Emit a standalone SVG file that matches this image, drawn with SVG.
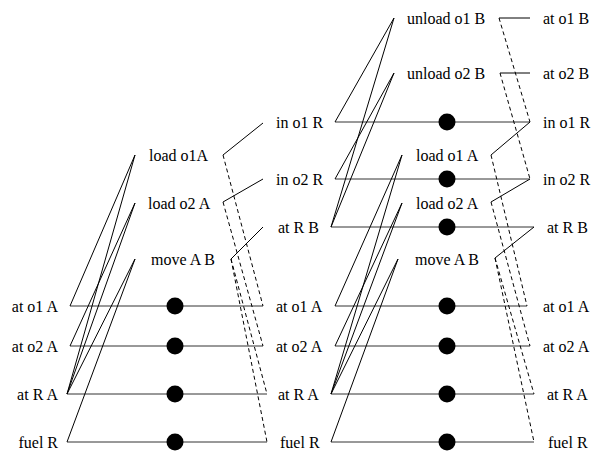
<svg xmlns="http://www.w3.org/2000/svg" width="591" height="452" viewBox="0 0 591 452" font-family="'Liberation Serif', 'Times New Roman', serif" font-size="16">
<style>
text{font-family:'Liberation Serif','Times New Roman','DejaVu Serif',serif;font-size:16px;fill:#000}
.e{text-anchor:end}
.f{stroke:#333;stroke-width:1;fill:none}
.c{stroke:#000;stroke-width:1;fill:none}
.d{stroke:#000;stroke-width:1;fill:none;stroke-dasharray:4 3}
.dot{fill:#000}
</style>
<rect width="591" height="452" fill="#fff"/>
<!-- layer 0 facts -->
<g id="f0-at-o1-A"><text class="e" x="58" y="311.5">at o1 A</text><line class="f" x1="70" y1="306" x2="263" y2="306"/><circle class="dot" cx="175" cy="306" r="8.5"/></g>
<g id="f0-at-o2-A"><text class="e" x="58" y="351.5">at o2 A</text><line class="f" x1="70" y1="346" x2="263" y2="346"/><circle class="dot" cx="175" cy="346" r="8.5"/></g>
<g id="f0-at-R-A"><text class="e" x="58" y="399.5">at R A</text><line class="f" x1="67" y1="394" x2="267" y2="394"/><circle class="dot" cx="175" cy="394" r="8.5"/></g>
<g id="f0-fuel-R"><text class="e" x="58" y="447.5">fuel R</text><line class="f" x1="67" y1="442" x2="267" y2="442"/><circle class="dot" cx="175" cy="442" r="8.5"/></g>
<!-- layer 0 actions -->
<g id="a0-load-o1-A"><text x="149" y="161">load o1A</text></g>
<g id="a0-load-o2-A"><text x="148" y="209">load o2 A</text></g>
<g id="a0-move-A-B"><text x="151" y="264.5">move A B</text></g>
<!-- layer 1 facts -->
<g id="f1-in-o1-R"><text x="276" y="128">in o1 R</text><line class="f" x1="335" y1="122" x2="530" y2="122"/><circle class="dot" cx="447" cy="122" r="8.5"/></g>
<g id="f1-in-o2-R"><text x="276" y="184.5">in o2 R</text><line class="f" x1="335" y1="179" x2="530" y2="179"/><circle class="dot" cx="447" cy="179" r="8.5"/></g>
<g id="f1-at-R-B"><text x="278" y="232.5">at R B</text><line class="f" x1="331" y1="227" x2="534" y2="227"/><circle class="dot" cx="447" cy="227" r="8.5"/></g>
<g id="f1-at-o1-A"><text x="276" y="311.5">at o1 A</text><line class="f" x1="335" y1="306" x2="527" y2="306"/><circle class="dot" cx="447" cy="306" r="8.5"/></g>
<g id="f1-at-o2-A"><text x="276" y="351.5">at o2 A</text><line class="f" x1="335" y1="346" x2="530" y2="346"/><circle class="dot" cx="447" cy="346" r="8.5"/></g>
<g id="f1-at-R-A"><text x="278" y="399.5">at R A</text><line class="f" x1="331" y1="394" x2="534" y2="394"/><circle class="dot" cx="447" cy="394" r="8.5"/></g>
<g id="f1-fuel-R"><text x="280" y="447.5">fuel R</text><line class="f" x1="331" y1="442" x2="534" y2="442"/><circle class="dot" cx="447" cy="442" r="8.5"/></g>
<!-- layer 1 actions -->
<g id="a1-unload-o1-B"><text x="407" y="24">unload o1 B</text></g>
<g id="a1-unload-o2-B"><text x="407" y="79">unload o2 B</text></g>
<g id="a1-load-o1-A"><text x="416" y="161">load o1 A</text></g>
<g id="a1-load-o2-A"><text x="416" y="209">load o2 A</text></g>
<g id="a1-move-A-B"><text x="415" y="264.5">move A B</text></g>
<!-- layer 2 facts -->
<g id="f2-at-o1-B"><text x="543" y="24">at o1 B</text></g>
<g id="f2-at-o2-B"><text x="543" y="79">at o2 B</text></g>
<g id="f2-in-o1-R"><text x="543" y="128">in o1 R</text></g>
<g id="f2-in-o2-R"><text x="543" y="184.5">in o2 R</text></g>
<g id="f2-at-R-B"><text x="547" y="232.5">at R B</text></g>
<g id="f2-at-o1-A"><text x="543" y="311.5">at o1 A</text></g>
<g id="f2-at-o2-A"><text x="543" y="351.5">at o2 A</text></g>
<g id="f2-at-R-A"><text x="547" y="399.5">at R A</text></g>
<g id="f2-fuel-R"><text x="548" y="447.5">fuel R</text></g>
<!-- connectors -->
<g id="connectors">
<g id="pre0" class="c">
<line x1="135" y1="155" x2="70" y2="306"/><line x1="135" y1="155" x2="67" y2="394"/>
<line x1="135" y1="203" x2="70" y2="346"/><line x1="135" y1="203" x2="67" y2="394"/>
<line x1="135" y1="259" x2="67" y2="394"/><line x1="135" y1="259" x2="67" y2="442"/>
</g>
<g id="add0" class="c">
<line x1="223" y1="155" x2="263" y2="123"/>
<line x1="223" y1="202" x2="263" y2="179"/>
<line x1="231" y1="259" x2="263" y2="227"/>
</g>
<g id="del0" class="d">
<line x1="223" y1="155" x2="263" y2="306"/>
<line x1="223" y1="202" x2="263" y2="346"/>
<line x1="231" y1="259" x2="267" y2="394"/>
<line x1="231" y1="259" x2="267" y2="442"/>
</g>
<g id="pre1" class="c">
<line x1="394" y1="18" x2="335" y2="122"/><line x1="394" y1="18" x2="331" y2="227"/>
<line x1="394" y1="73" x2="335" y2="179"/><line x1="394" y1="73" x2="331" y2="227"/>
<line x1="402" y1="155" x2="335" y2="306"/><line x1="402" y1="155" x2="331" y2="394"/>
<line x1="402" y1="203" x2="335" y2="346"/><line x1="402" y1="203" x2="331" y2="394"/>
<line x1="398" y1="259" x2="331" y2="394"/><line x1="398" y1="259" x2="331" y2="442"/>
</g>
<g id="add1" class="c">
<line x1="499" y1="18" x2="530" y2="18"/>
<line x1="500" y1="73" x2="530" y2="73"/>
<line x1="491" y1="155" x2="530" y2="122"/>
<line x1="491" y1="202" x2="530" y2="179"/>
<line x1="495" y1="258" x2="534" y2="227"/>
</g>
<g id="del1" class="d">
<line x1="499" y1="18" x2="530" y2="122"/>
<line x1="500" y1="73" x2="530" y2="179"/>
<line x1="491" y1="155" x2="527" y2="306"/>
<line x1="491" y1="202" x2="530" y2="346"/>
<line x1="495" y1="258" x2="534" y2="394"/>
<line x1="495" y1="258" x2="534" y2="442"/>
</g>
</g>
</svg>
